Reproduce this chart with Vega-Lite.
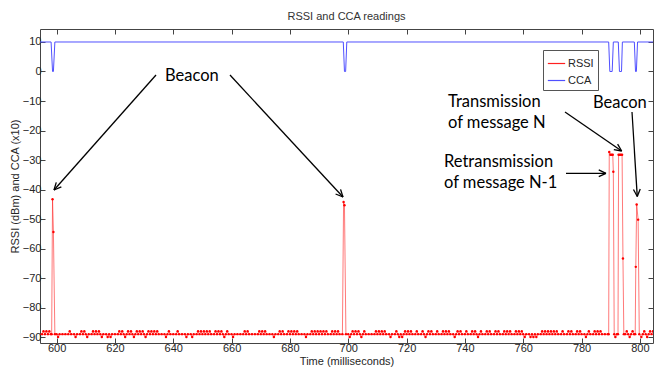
{
  "$schema": "https://vega.github.io/schema/vega-lite/v6.json",
  "width": 613,
  "height": 314,
  "autosize": {"type": "none"},
  "padding": {"left": 40, "top": 29, "right": 1, "bottom": 28},
  "background": "white",
  "config": {
    "view": {"stroke": "#444", "strokeWidth": 1},
    "font": "Liberation Sans",
    "axis": {
      "labelFont": "Liberation Sans", "labelFontSize": 11, "labelColor": "#262626",
      "titleFont": "Liberation Sans", "titleFontSize": 11, "titleFontWeight": "normal", "titleColor": "#262626",
      "tickColor": "#444", "grid": false, "labelFlush": false
    },
    "legend": {"orient": "none", "legendX": 503, "legendY": 21, "symbolType": "stroke", "symbolSize": 300, "symbolStrokeWidth": 1.2,
               "labelFont": "Liberation Sans", "labelFontSize": 11, "labelColor": "#262626", "strokeColor": "#555", "fillColor": "white", "padding": 4, "rowPadding": 2, "labelOffset": 2}
  },
  "title": {"text": "RSSI and CCA readings", "font": "Liberation Sans", "fontSize": 11, "fontWeight": "normal", "color": "#333", "offset": 7},
  "datasets": {
    "cca": [
      {"t":594,"CCA":10},{"t":598.1,"CCA":10},{"t":598.6,"CCA":0},{"t":598.9,"CCA":0},{"t":599.4,"CCA":10},
      {"t":698.3,"CCA":10},{"t":698.7,"CCA":0},{"t":699.1,"CCA":0},{"t":699.5,"CCA":10},
      {"t":789.3,"CCA":10},{"t":789.7,"CCA":0},{"t":790.5,"CCA":0},{"t":790.9,"CCA":10},
      {"t":792.6,"CCA":10},{"t":793.0,"CCA":0},{"t":793.7,"CCA":0},{"t":794.0,"CCA":10},
      {"t":798.1,"CCA":10},{"t":798.5,"CCA":0},{"t":798.8,"CCA":0},{"t":799.2,"CCA":10},
      {"t":805,"CCA":10}
    ],
    "rssi": [
      {"t":594,"RSSI":-89},{"t":595,"RSSI":-89},{"t":595.5,"RSSI":-88},{"t":596,"RSSI":-89},{"t":596.5,"RSSI":-88},{"t":597,"RSSI":-89},{"t":597.5,"RSSI":-88},{"t":598,"RSSI":-89},
      {"t":598.3,"RSSI":-89},{"t":598.6,"RSSI":-43.3},{"t":598.9,"RSSI":-54.4},{"t":599.4,"RSSI":-89},
      {"t":600,"RSSI":-89},{"t":600.5,"RSSI":-90},{"t":601,"RSSI":-89},{"t":602,"RSSI":-89},{"t":603,"RSSI":-89},{"t":604,"RSSI":-89},{"t":604.5,"RSSI":-88},{"t":605,"RSSI":-89},
      {"t":606,"RSSI":-89},{"t":606.5,"RSSI":-90},{"t":607,"RSSI":-89},{"t":608,"RSSI":-89},{"t":608.5,"RSSI":-88},{"t":609,"RSSI":-89},{"t":609.5,"RSSI":-88},{"t":610,"RSSI":-89},
      {"t":610.5,"RSSI":-90},{"t":611,"RSSI":-89},{"t":612,"RSSI":-89},{"t":612.5,"RSSI":-88},{"t":613,"RSSI":-89},{"t":613.5,"RSSI":-88},{"t":614,"RSSI":-89},{"t":614.5,"RSSI":-88},
      {"t":615,"RSSI":-89},{"t":615.5,"RSSI":-90},{"t":616,"RSSI":-89},{"t":617,"RSSI":-89},{"t":617.5,"RSSI":-90},{"t":618,"RSSI":-89},{"t":618.5,"RSSI":-90},{"t":619,"RSSI":-89},
      {"t":620,"RSSI":-89},{"t":621,"RSSI":-89},{"t":621.5,"RSSI":-88},{"t":622,"RSSI":-89},{"t":622.5,"RSSI":-88},{"t":623,"RSSI":-89},{"t":623.5,"RSSI":-90},{"t":624,"RSSI":-89},
      {"t":624.5,"RSSI":-88},{"t":625,"RSSI":-89},{"t":625.5,"RSSI":-88},{"t":626,"RSSI":-89},{"t":626.5,"RSSI":-90},{"t":627,"RSSI":-89},{"t":627.5,"RSSI":-88},{"t":628,"RSSI":-89},
      {"t":628.5,"RSSI":-88},{"t":629,"RSSI":-89},{"t":629.5,"RSSI":-88},{"t":630,"RSSI":-89},{"t":630.5,"RSSI":-90},{"t":631,"RSSI":-89},{"t":631.5,"RSSI":-88},{"t":632,"RSSI":-89},
      {"t":632.5,"RSSI":-88},{"t":633,"RSSI":-89},{"t":633.5,"RSSI":-88},{"t":634,"RSSI":-89},{"t":634.5,"RSSI":-88},{"t":635,"RSSI":-89},{"t":636,"RSSI":-89},{"t":637,"RSSI":-89},
      {"t":637.5,"RSSI":-90},{"t":638,"RSSI":-89},{"t":638.5,"RSSI":-88},{"t":639,"RSSI":-89},{"t":640,"RSSI":-89},{"t":641,"RSSI":-89},{"t":641.5,"RSSI":-88},{"t":642,"RSSI":-89},
      {"t":643,"RSSI":-89},{"t":644,"RSSI":-89},{"t":644.5,"RSSI":-90},{"t":645,"RSSI":-89},{"t":646,"RSSI":-89},{"t":646.5,"RSSI":-90},{"t":647,"RSSI":-89},{"t":648,"RSSI":-89},
      {"t":648.5,"RSSI":-88},{"t":649,"RSSI":-89},{"t":649.5,"RSSI":-88},{"t":650,"RSSI":-89},{"t":650.5,"RSSI":-88},{"t":651,"RSSI":-89},{"t":651.5,"RSSI":-88},{"t":652,"RSSI":-89},
      {"t":652.5,"RSSI":-88},{"t":653,"RSSI":-89},{"t":654,"RSSI":-89},{"t":654.5,"RSSI":-88},{"t":655,"RSSI":-89},{"t":655.5,"RSSI":-88},{"t":656,"RSSI":-89},{"t":656.5,"RSSI":-88},
      {"t":657,"RSSI":-89},{"t":657.5,"RSSI":-90},{"t":658,"RSSI":-89},{"t":658.5,"RSSI":-88},{"t":659,"RSSI":-89},{"t":660,"RSSI":-89},{"t":660.5,"RSSI":-90},{"t":661,"RSSI":-89},
      {"t":662,"RSSI":-89},{"t":663,"RSSI":-89},{"t":664,"RSSI":-89},{"t":664.5,"RSSI":-88},{"t":665,"RSSI":-89},{"t":665.5,"RSSI":-88},{"t":666,"RSSI":-89},{"t":667,"RSSI":-89},
      {"t":668,"RSSI":-89},{"t":669,"RSSI":-89},{"t":669.5,"RSSI":-88},{"t":670,"RSSI":-89},{"t":670.5,"RSSI":-88},{"t":671,"RSSI":-89},{"t":671.5,"RSSI":-88},{"t":672,"RSSI":-89},
      {"t":673,"RSSI":-89},{"t":674,"RSSI":-89},{"t":674.5,"RSSI":-90},{"t":675,"RSSI":-89},{"t":676,"RSSI":-89},{"t":676.5,"RSSI":-88},{"t":677,"RSSI":-89},{"t":677.5,"RSSI":-88},
      {"t":678,"RSSI":-89},{"t":679,"RSSI":-89},{"t":679.5,"RSSI":-88},{"t":680,"RSSI":-89},{"t":680.5,"RSSI":-88},{"t":681,"RSSI":-89},{"t":681.5,"RSSI":-88},{"t":682,"RSSI":-89},
      {"t":682.5,"RSSI":-88},{"t":683,"RSSI":-89},{"t":684,"RSSI":-89},{"t":685,"RSSI":-89},{"t":685.5,"RSSI":-90},{"t":686,"RSSI":-89},{"t":687,"RSSI":-89},{"t":687.5,"RSSI":-88},
      {"t":688,"RSSI":-89},{"t":688.5,"RSSI":-88},{"t":689,"RSSI":-89},{"t":689.5,"RSSI":-88},{"t":690,"RSSI":-89},{"t":690.5,"RSSI":-88},{"t":691,"RSSI":-89},{"t":691.5,"RSSI":-88},
      {"t":692,"RSSI":-89},{"t":692.5,"RSSI":-88},{"t":693,"RSSI":-89},{"t":694,"RSSI":-89},{"t":694.5,"RSSI":-88},{"t":695,"RSSI":-89},{"t":695.5,"RSSI":-88},{"t":696,"RSSI":-89},
      {"t":696.5,"RSSI":-88},{"t":697,"RSSI":-89},{"t":698,"RSSI":-89},
      {"t":698.4,"RSSI":-44.2},{"t":698.7,"RSSI":-45.3},{"t":699.2,"RSSI":-89},
      {"t":700,"RSSI":-89},{"t":700.5,"RSSI":-90},{"t":701,"RSSI":-89},{"t":701.5,"RSSI":-88},{"t":702,"RSSI":-89},{"t":702.5,"RSSI":-88},{"t":703,"RSSI":-89},{"t":703.5,"RSSI":-88},
      {"t":704,"RSSI":-89},{"t":704.5,"RSSI":-90},{"t":705,"RSSI":-89},{"t":705.5,"RSSI":-88},{"t":706,"RSSI":-89},{"t":707,"RSSI":-89},{"t":708,"RSSI":-89},{"t":709,"RSSI":-89},
      {"t":709.5,"RSSI":-88},{"t":710,"RSSI":-89},{"t":710.5,"RSSI":-88},{"t":711,"RSSI":-89},{"t":711.5,"RSSI":-88},{"t":712,"RSSI":-89},{"t":712.5,"RSSI":-88},{"t":713,"RSSI":-89},
      {"t":714,"RSSI":-89},{"t":714.5,"RSSI":-90},{"t":715,"RSSI":-89},{"t":716,"RSSI":-89},{"t":716.5,"RSSI":-88},{"t":717,"RSSI":-89},{"t":717.5,"RSSI":-90},{"t":718,"RSSI":-89},
      {"t":718.5,"RSSI":-90},{"t":719,"RSSI":-89},{"t":719.5,"RSSI":-88},{"t":720,"RSSI":-89},{"t":720.5,"RSSI":-88},{"t":721,"RSSI":-89},{"t":721.5,"RSSI":-88},{"t":722,"RSSI":-89},
      {"t":723,"RSSI":-89},{"t":723.5,"RSSI":-88},{"t":724,"RSSI":-89},{"t":725,"RSSI":-89},{"t":725.5,"RSSI":-88},{"t":726,"RSSI":-89},{"t":726.5,"RSSI":-90},{"t":727,"RSSI":-89},
      {"t":727.5,"RSSI":-88},{"t":728,"RSSI":-89},{"t":728.5,"RSSI":-88},{"t":729,"RSSI":-89},{"t":730,"RSSI":-89},{"t":730.5,"RSSI":-88},{"t":731,"RSSI":-89},{"t":732,"RSSI":-89},
      {"t":732.5,"RSSI":-88},{"t":733,"RSSI":-89},{"t":733.5,"RSSI":-88},{"t":734,"RSSI":-89},{"t":734.5,"RSSI":-88},{"t":735,"RSSI":-89},{"t":736,"RSSI":-89},{"t":736.5,"RSSI":-90},
      {"t":737,"RSSI":-89},{"t":737.5,"RSSI":-88},{"t":738,"RSSI":-89},{"t":738.5,"RSSI":-88},{"t":739,"RSSI":-89},{"t":740,"RSSI":-89},{"t":740.5,"RSSI":-88},{"t":741,"RSSI":-89},
      {"t":742,"RSSI":-89},{"t":742.5,"RSSI":-88},{"t":743,"RSSI":-89},{"t":743.5,"RSSI":-88},{"t":744,"RSSI":-89},{"t":744.5,"RSSI":-90},{"t":745,"RSSI":-89},{"t":745.5,"RSSI":-88},
      {"t":746,"RSSI":-89},{"t":747,"RSSI":-89},{"t":747.5,"RSSI":-88},{"t":748,"RSSI":-89},{"t":748.5,"RSSI":-88},{"t":749,"RSSI":-89},{"t":750,"RSSI":-89},{"t":750.5,"RSSI":-88},
      {"t":751,"RSSI":-89},{"t":751.5,"RSSI":-88},{"t":752,"RSSI":-89},{"t":753,"RSSI":-89},{"t":753.5,"RSSI":-88},{"t":754,"RSSI":-89},{"t":754.5,"RSSI":-88},{"t":755,"RSSI":-89},
      {"t":755.5,"RSSI":-88},{"t":756,"RSSI":-89},{"t":757,"RSSI":-89},{"t":757.5,"RSSI":-88},{"t":758,"RSSI":-89},{"t":758.5,"RSSI":-88},{"t":759,"RSSI":-89},{"t":759.5,"RSSI":-88},
      {"t":760,"RSSI":-89},{"t":760.5,"RSSI":-90},{"t":761,"RSSI":-89},{"t":762,"RSSI":-89},{"t":762.5,"RSSI":-90},{"t":763,"RSSI":-89},{"t":763.5,"RSSI":-90},{"t":764,"RSSI":-89},
      {"t":764.5,"RSSI":-90},{"t":765,"RSSI":-89},{"t":766,"RSSI":-89},{"t":766.5,"RSSI":-88},{"t":767,"RSSI":-89},{"t":767.5,"RSSI":-88},{"t":768,"RSSI":-89},{"t":768.5,"RSSI":-88},
      {"t":769,"RSSI":-89},{"t":769.5,"RSSI":-88},{"t":770,"RSSI":-89},{"t":770.5,"RSSI":-88},{"t":771,"RSSI":-89},{"t":771.5,"RSSI":-88},{"t":772,"RSSI":-89},{"t":773,"RSSI":-89},
      {"t":773.5,"RSSI":-88},{"t":774,"RSSI":-89},{"t":775,"RSSI":-89},{"t":775.5,"RSSI":-88},{"t":776,"RSSI":-89},{"t":776.5,"RSSI":-88},{"t":777,"RSSI":-89},{"t":778,"RSSI":-89},
      {"t":778.5,"RSSI":-88},{"t":779,"RSSI":-89},{"t":779.5,"RSSI":-88},{"t":780,"RSSI":-89},{"t":781,"RSSI":-89},{"t":781.5,"RSSI":-90},{"t":782,"RSSI":-89},{"t":782.5,"RSSI":-88},
      {"t":783,"RSSI":-89},{"t":784,"RSSI":-89},{"t":784.5,"RSSI":-88},{"t":785,"RSSI":-89},{"t":785.5,"RSSI":-88},{"t":786,"RSSI":-89},{"t":786.5,"RSSI":-88},{"t":787,"RSSI":-89},
      {"t":788,"RSSI":-89},{"t":789,"RSSI":-89},{"t":789.3,"RSSI":-89},
      {"t":789.5,"RSSI":-27.3},{"t":789.9,"RSSI":-28.2},{"t":790.3,"RSSI":-28.2},{"t":790.7,"RSSI":-28.2},{"t":790.9,"RSSI":-34},{"t":791.2,"RSSI":-89},
      {"t":791.6,"RSSI":-90},{"t":792.1,"RSSI":-89},{"t":792.5,"RSSI":-89},
      {"t":792.7,"RSSI":-28.2},{"t":793.1,"RSSI":-28.2},{"t":793.5,"RSSI":-28.2},{"t":793.9,"RSSI":-28.2},{"t":794.2,"RSSI":-63.4},{"t":794.5,"RSSI":-89},
      {"t":795,"RSSI":-89},{"t":795.5,"RSSI":-88},{"t":796,"RSSI":-89},{"t":796.5,"RSSI":-90},{"t":797,"RSSI":-89},{"t":797.5,"RSSI":-88},{"t":798,"RSSI":-89},{"t":798.4,"RSSI":-89},
      {"t":798.6,"RSSI":-66.2},{"t":798.9,"RSSI":-45.1},{"t":799.4,"RSSI":-50.2},{"t":799.8,"RSSI":-89},
      {"t":800.5,"RSSI":-90},{"t":801,"RSSI":-89},{"t":801.5,"RSSI":-88},{"t":802,"RSSI":-89},{"t":802.5,"RSSI":-90},{"t":803,"RSSI":-89},{"t":803.5,"RSSI":-88},{"t":804,"RSSI":-89},
      {"t":804.5,"RSSI":-88},{"t":805,"RSSI":-89}
    ],
    "ann": [
      {"t":637.16,"v":-3.22,"label":"Beacon"},
      {"t":783.92,"v":-12.37,"label":"Beacon"},
      {"t":734.2,"v":-12.03,"label":"Transmission"},
      {"t":734.2,"v":-19.25,"label":"of message N"},
      {"t":732.83,"v":-32.36,"label":"Retransmission"},
      {"t":732.83,"v":-39.58,"label":"of message N-1"}
    ],
    "arrows": [
      {"t":634.08,"v":-1.19,"t2":599.10,"v2":-40.16},
      {"t":599.10,"v":-40.16,"t2":601.62,"v2":-39.08},
      {"t":599.10,"v":-40.16,"t2":599.88,"v2":-37.56},
      {"t":659.45,"v":-1.19,"t2":698.20,"v2":-42.53},
      {"t":698.20,"v":-42.53,"t2":697.36,"v2":-39.95},
      {"t":698.20,"v":-42.53,"t2":695.66,"v2":-41.51},
      {"t":774.32,"v":-13.73,"t2":793.76,"v2":-26.94},
      {"t":793.76,"v":-26.94,"t2":792.37,"v2":-24.60},
      {"t":793.76,"v":-26.94,"t2":791.06,"v2":-26.49},
      {"t":774.67,"v":-34.50,"t2":788.38,"v2":-34.50},
      {"t":788.38,"v":-34.50,"t2":785.90,"v2":-33.35},
      {"t":788.38,"v":-34.50,"t2":785.90,"v2":-35.64},
      {"t":797.30,"v":-13.73,"t2":799.11,"v2":-42.36},
      {"t":799.11,"v":-42.36,"t2":800.12,"v2":-39.84},
      {"t":799.11,"v":-42.36,"t2":797.80,"v2":-39.98}
    ]
  },
  "resolve": {"axis": {"x": "independent", "y": "independent"}},
  "layer": [
    {
      "data": {"name": "cca"},
      "transform": [{"fold": ["CCA"], "as": ["s", "v"]}],
      "mark": {"type": "line", "strokeWidth": 1, "clip": true},
      "encoding": {
        "x": {"field": "t", "type": "quantitative", "scale": {"domain": [594.3, 804.5], "nice": false, "zero": false},
              "axis": {"orient": "top", "values": [600,620,640,660,680,700,720,740,760,780,800], "labels": false, "domain": false, "tickSize": -5, "title": null}},
        "y": {"field": "v", "type": "quantitative", "scale": {"domain": [-92, 14.4], "nice": false, "zero": false},
              "axis": {"orient": "right", "values": [-90,-80,-70,-60,-50,-40,-30,-20,-10,0,10], "labels": false, "domain": false, "tickSize": -5, "title": null}},
        "color": {"field": "s", "type": "nominal",
                  "scale": {"domain": ["RSSI", "CCA"], "range": ["#ff2020", "#5050ff"]},
                  "legend": {"title": null}}
      }
    },
    {
      "data": {"name": "rssi"},
      "transform": [{"fold": ["RSSI"], "as": ["s", "v"]}],
      "mark": {"type": "line", "strokeWidth": 0.6, "clip": true},
      "encoding": {
        "x": {"field": "t", "type": "quantitative",
              "axis": {"orient": "bottom", "values": [600,620,640,660,680,700,720,740,760,780,800], "domain": false, "tickSize": -5, "labelPadding": 4, "title": "Time (milliseconds)", "titlePadding": 2}},
        "y": {"field": "v", "type": "quantitative",
              "axis": {"orient": "left", "values": [-90,-80,-70,-60,-50,-40,-30,-20,-10,0,10], "domain": false, "tickSize": -5, "labelPadding": 4, "title": "RSSI (dBm) and CCA (x10)", "titlePadding": 2}},
        "color": {"field": "s", "type": "nominal", "legend": {"title": null}}
      }
    },
    {
      "data": {"name": "rssi"},
      "mark": {"type": "point", "filled": true, "size": 6, "color": "#ff0000", "opacity": 1, "clip": true},
      "encoding": {
        "x": {"field": "t", "type": "quantitative", "axis": null},
        "y": {"field": "RSSI", "type": "quantitative", "axis": null}
      }
    },
    {
      "data": {"name": "arrows"},
      "mark": {"type": "rule", "color": "black", "strokeWidth": 1.3},
      "encoding": {
        "x": {"field": "t", "type": "quantitative", "axis": null},
        "y": {"field": "v", "type": "quantitative", "axis": null},
        "x2": {"field": "t2"},
        "y2": {"field": "v2"}
      }
    },
    {
      "data": {"name": "ann"},
      "mark": {"type": "text", "font": "Lato", "fontSize": 16.5, "align": "left", "baseline": "alphabetic", "color": "black"},
      "encoding": {
        "x": {"field": "t", "type": "quantitative", "axis": null},
        "y": {"field": "v", "type": "quantitative", "axis": null},
        "text": {"field": "label"}
      }
    }
  ]
}
